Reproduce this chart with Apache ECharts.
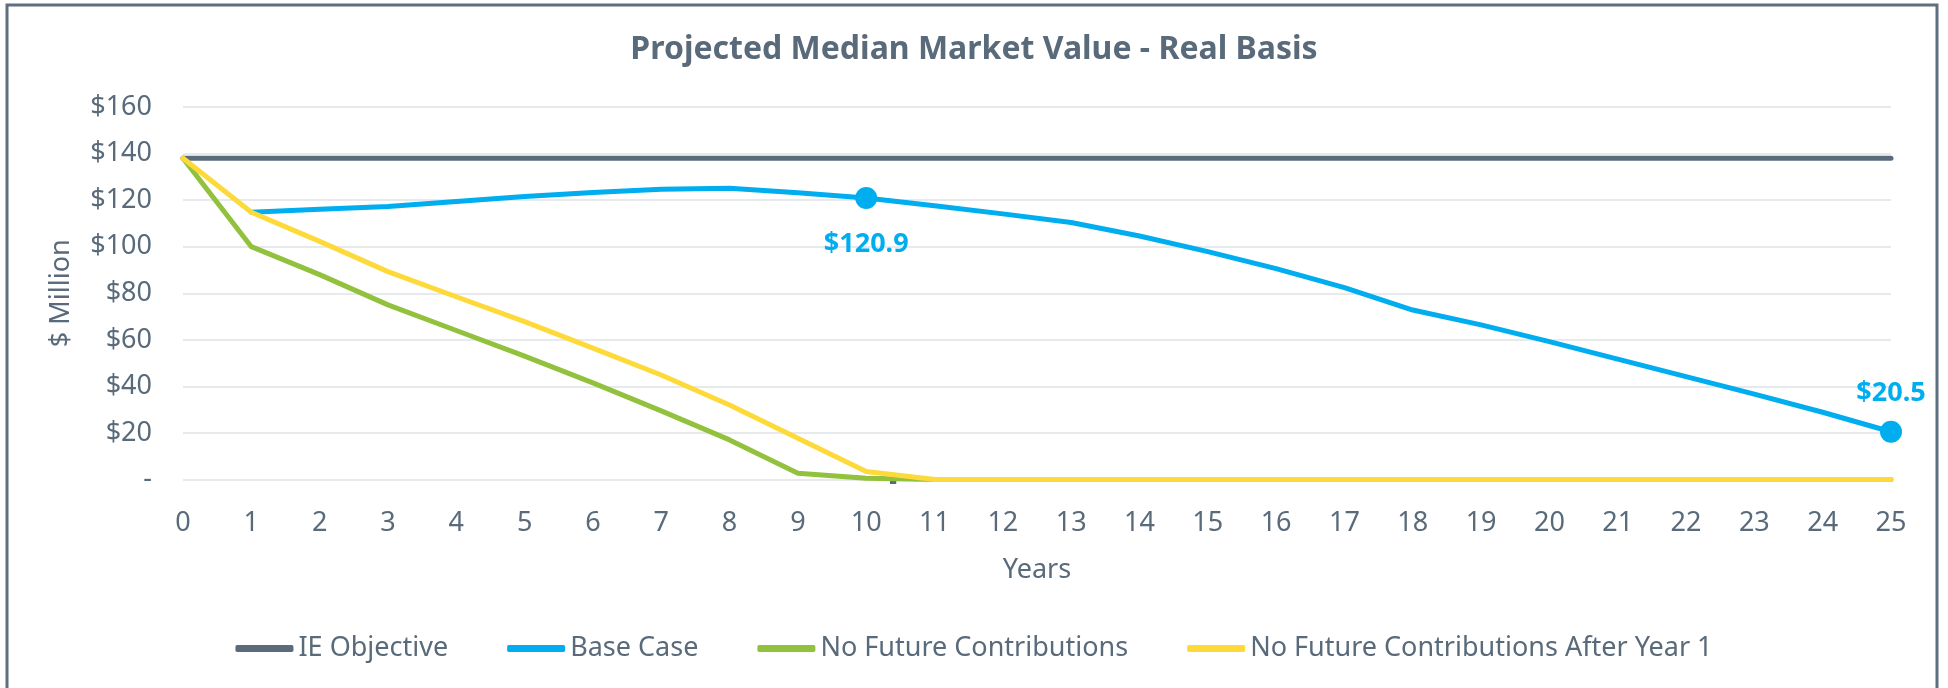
<!DOCTYPE html>
<html>
<head>
<meta charset="utf-8">
<script src="https://cdn.jsdelivr.net/npm/echarts@6/dist/echarts.min.js"></script>
<style>
  html, body { margin: 0; padding: 0; background: #fff; }
  #chart { width: 1948px; height: 688px; }
</style>
</head>
<body>
<div id="chart"></div>
<script>
// data ($ million, by year)
var years = ['0','1','2','3','4','5','6','7','8','9','10','11','12','13','14','15','16','17','18','19','20','21','22','23','24','25'];
var ieObjective = [138,138,138,138,138,138,138,138,138,138,138,138,138,138,138,138,138,138,138,138,138,138,138,138,138,138];
var baseCase = ['-',114.8,116.1,117.3,119.4,121.6,123.3,124.7,125.1,123.2,120.9,117.6,114.1,110.4,104.6,97.9,90.6,82.4,72.8,66.4,59.2,51.7,44.2,36.7,28.9,20.5];
var noFuture = [138,100,88,75,64,53,41.5,29.5,17,2.7,0.5,0,0,0,0,0,0,0,0,0,0,0,0,0,0,0];
var noFutureAfter1 = [138,114.8,102.3,89.3,78.5,67.8,56.4,44.9,32,17.7,3.4,0,0,0,0,0,0,0,0,0,0,0,0,0,0,0];
var labelledBase = { 10: 'bottom', 25: 'top' };   // points with a marker and value label

var chart = echarts.init(document.getElementById('chart'));

var textColor = '#596a7a';
var blue = '#00aeef';
var font = '"Noto Sans", "DejaVu Sans", sans-serif';

var baseData = baseCase.map(function (v, i) {
    if (labelledBase[i]) {
        return {
            value: v,
            symbol: 'circle',
            symbolSize: 22,
            label: {
                show: true,
                position: labelledBase[i],
                distance: labelledBase[i] === 'bottom' ? 22 : 14,
                formatter: '$' + v.toFixed(1),
                color: blue,
                fontWeight: 'bold',
                fontSize: 27,
                fontFamily: font
            }
        };
    }
    return v;
});

// the stray "-" label near year 10 on the green line
var greenData = noFuture.map(function (v, i) {
    if (i === 10) {
        return {
            value: v,
            symbol: 'circle',
            symbolSize: 2,
            itemStyle: { color: 'rgba(0,0,0,0)' },
            label: {
                show: true,
                position: 'inside',
                offset: [27, 4],
                formatter: '-',
                color: textColor,
                fontWeight: 'bold',
                fontSize: 24,
                fontFamily: font
            }
        };
    }
    return v;
});

function lineSeries(name, color, data) {
    return {
        name: name,
        type: 'line',
        data: data,
        showSymbol: true,
        symbol: 'none',
        color: color,
        lineStyle: { width: 5, color: color, cap: 'round', join: 'round' },
        emphasis: { disabled: true },
        animation: false
    };
}

var option = {
    backgroundColor: '#ffffff',
    animation: false,
    title: {
        text: 'Projected Median Market Value - Real Basis',
        left: 'center',
        top: 29,
        textStyle: {
            color: textColor,
            fontSize: 32,
            fontWeight: 'bold',
            fontFamily: font
        }
    },
    legend: {
        left: 'center',
        top: 630,
        itemWidth: 58,
        itemHeight: 7,
        itemGap: 59,
        icon: 'roundRect',
        textStyle: { color: textColor, fontSize: 27, fontFamily: font },
        data: ['IE Objective', 'Base Case', 'No Future Contributions', 'No Future Contributions After Year 1']
    },
    grid: {
        left: 183,
        right: 57,
        top: 107,
        bottom: 208.5,
        containLabel: false
    },
    xAxis: {
        type: 'category',
        data: years,
        boundaryGap: false,
        name: 'Years',
        nameLocation: 'middle',
        nameGap: 77,
        nameTextStyle: { color: textColor, fontSize: 27, fontFamily: font },
        axisLine: { show: false },
        axisTick: { show: false },
        axisLabel: { color: textColor, fontSize: 27, fontFamily: font, margin: 30, interval: 0 },
        splitLine: { show: false }
    },
    yAxis: {
        type: 'value',
        min: 0,
        max: 160,
        interval: 20,
        name: '$ Million',
        nameLocation: 'middle',
        nameGap: 108,
        nameTextStyle: { color: textColor, fontSize: 27, fontFamily: font },
        axisLine: { show: false },
        axisTick: { show: false },
        axisLabel: {
            color: textColor,
            fontSize: 27,
            fontFamily: font,
            margin: 31,
            formatter: function (v) { return v === 0 ? '-' : '$' + v; }
        },
        splitLine: { lineStyle: { color: '#e6eaed', width: 2 } }
    },
    graphic: [{
        type: 'rect',
        shape: { x: 7, y: 5, width: 1930, height: 700 },
        style: { fill: null, stroke: '#5f6f7f', lineWidth: 3 },
        silent: true
    }],
    series: [
        lineSeries('IE Objective', '#5a6b7c', ieObjective),
        lineSeries('Base Case', blue, baseData),
        lineSeries('No Future Contributions', '#92c13e', greenData),
        lineSeries('No Future Contributions After Year 1', '#fdda3a', noFutureAfter1)
    ]
};

chart.setOption(option);
</script>
</body>
</html>
